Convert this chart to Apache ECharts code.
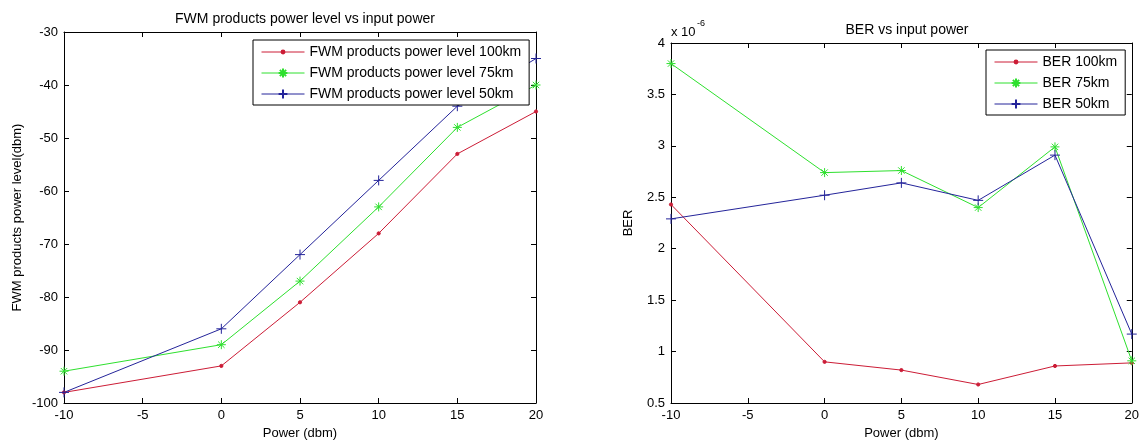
<!DOCTYPE html>
<html>
<head>
<meta charset="utf-8">
<script src="https://cdn.jsdelivr.net/npm/echarts@6/dist/echarts.min.js"></script>
<style>
html,body{margin:0;padding:0;background:#fff;}
#chart{width:1142px;height:445px;}
</style>
</head>
<body>
<div id="chart"></div>
<script>
// ---- data ----
const powers = [-10, 0, 5, 10, 15, 20];
const fwm100 = [-98, -93, -81, -68, -53, -45];
const fwm75  = [-94, -89, -77, -63, -48, -40];
const fwm50  = [-98, -86, -72, -58, -44, -35];
// BER values in units of 1e-6
const ber100 = [2.43, 0.90, 0.82, 0.68, 0.86, 0.89];
const ber75  = [3.80, 2.74, 2.76, 2.40, 2.99, 0.91];
const ber50  = [2.29, 2.52, 2.64, 2.47, 2.91, 1.17];
const fwmNames = ['FWM products power level 100km', 'FWM products power level 75km', 'FWM products power level 50km'];
const berNames = ['BER 100km', 'BER 75km', 'BER 50km'];

const FONT = "'Liberation Sans', Arial, sans-serif";
const RED = '#cc1c36', GREEN = '#2ee02e', BLUE = '#24249a';
const PLUS = 'path://M5,0L5,10M0,5L10,5';
const STAR = 'path://M5,0.5L5,9.5M0.5,5L9.5,5M1.8,1.8L8.2,8.2M8.2,1.8L1.8,8.2';
const DOT = 'path://M0,0M10,10M6.6,5A1.6,1.6,0,1,1,3.4,5A1.6,1.6,0,1,1,6.6,5Z';

const pairs = ys => powers.map((x, i) => [x, ys[i]]);

function mkSeries(name, ys, color, symbol, size, xi, yi) {
  return {
    type: 'line', name, data: pairs(ys), xAxisIndex: xi, yAxisIndex: yi,
    symbol, symbolSize: size, showSymbol: true, animation: false,
    lineStyle: { color, width: 1 },
    itemStyle: { color, borderColor: color, borderWidth: 1 },
    emphasis: { disabled: true }
  };
}

const axLabel = { color: '#000', fontSize: 13, fontFamily: FONT };
function xAx(grid, min, max, interval, pos, show, name) {
  return {
    type: 'value', gridIndex: grid, min, max, interval, position: pos,
    axisLine: { show: true, onZero: false, lineStyle: { color: '#000', width: 1 } },
    axisTick: { show: true, inside: true, length: 5, lineStyle: { color: '#000' } },
    axisLabel: Object.assign({ show, margin: 6 }, axLabel),
    splitLine: { show: false },
    name: name || '', nameLocation: 'middle', nameGap: 24,
    nameTextStyle: { color: '#000', fontSize: 13, fontFamily: FONT }
  };
}
function yAx(grid, min, max, interval, pos, show, name, gap) {
  return {
    type: 'value', gridIndex: grid, min, max, interval, position: pos,
    axisLine: { show: true, onZero: false, lineStyle: { color: '#000', width: 1 } },
    axisTick: { show: true, inside: true, length: 5, lineStyle: { color: '#000' } },
    axisLabel: Object.assign({ show, margin: 6 }, axLabel),
    splitLine: { show: false },
    name: name || '', nameLocation: 'middle', nameGap: gap || 40, nameRotate: 90,
    nameTextStyle: { color: '#000', fontSize: 13, fontFamily: FONT }
  };
}

const legendBase = {
  orient: 'vertical', itemWidth: 43, itemHeight: 11, itemGap: 7,
  padding: [5, 8, 4, 8], backgroundColor: '#fff', borderColor: '#000', borderWidth: 1,
  lineStyle: { width: 1 },
  textStyle: { color: '#000', fontSize: 14, fontFamily: FONT }, selectedMode: false
};

const option = {
  backgroundColor: '#fff',
  animation: false,
  title: [
    { text: 'FWM products power level vs input power', left: 300, top: 7, textAlign: 'center',
      textStyle: { fontSize: 14, fontWeight: 'normal', color: '#000', fontFamily: FONT } },
    { text: 'BER vs input power', left: 902, top: 18, textAlign: 'center',
      textStyle: { fontSize: 14, fontWeight: 'normal', color: '#000', fontFamily: FONT } }
  ],
  grid: [
    { left: 64, top: 32, width: 472, height: 371, containLabel: false },
    { left: 671, top: 43, width: 461, height: 362, containLabel: false }
  ],
  xAxis: [
    xAx(0, -10, 20, 5, 'bottom', true, 'Power (dbm)'),
    xAx(0, -10, 20, 5, 'top', false),
    xAx(1, -10, 20, 5, 'bottom', true, 'Power (dbm)'),
    xAx(1, -10, 20, 5, 'top', false)
  ],
  yAxis: [
    yAx(0, -100, -30, 10, 'left', true, 'FWM products power level(dbm)', 40),
    yAx(0, -100, -30, 10, 'right', false),
    yAx(1, 0.5, 4, 0.5, 'left', true, 'BER', 36),
    yAx(1, 0.5, 4, 0.5, 'right', false)
  ],
  legend: [
    Object.assign({}, legendBase, { data: fwmNames, left: 253, top: 40 }),
    Object.assign({}, legendBase, { data: berNames, left: 986, top: 50 })
  ],
  graphic: [
    { type: 'text', left: 671, top: 26, style: { text: 'x 10', fontSize: 13, fontFamily: FONT, fill: '#000' } },
    { type: 'text', left: 697, top: 19, style: { text: '-6', fontSize: 9, fontFamily: FONT, fill: '#000' } }
  ],
  series: [
    mkSeries(fwmNames[0], fwm100, RED, DOT, 10, 0, 0),
    mkSeries(fwmNames[1], fwm75, GREEN, STAR, 9, 0, 0),
    mkSeries(fwmNames[2], fwm50, BLUE, PLUS, 10, 0, 0),
    mkSeries(berNames[0], ber100, RED, DOT, 10, 2, 2),
    mkSeries(berNames[1], ber75, GREEN, STAR, 9, 2, 2),
    mkSeries(berNames[2], ber50, BLUE, PLUS, 10, 2, 2)
  ]
};

const chart = echarts.init(document.getElementById('chart'), null, { renderer: 'canvas' });
chart.setOption(option);
</script>
</body>
</html>
